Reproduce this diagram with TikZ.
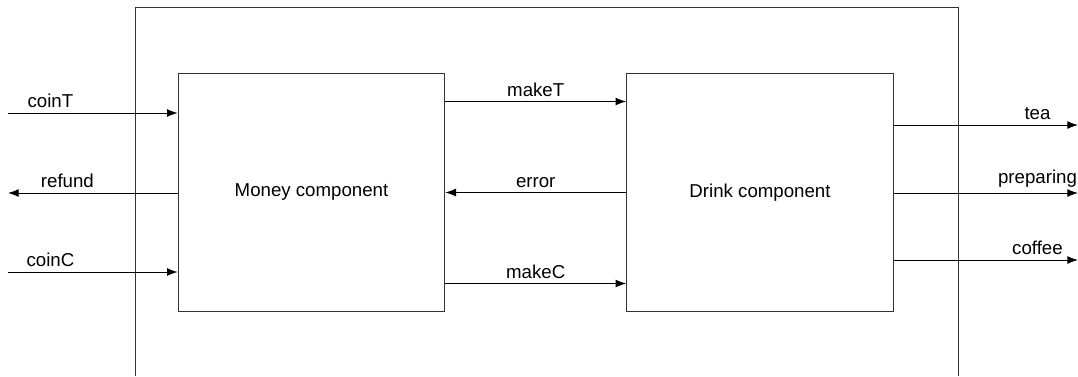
\documentclass[tikz,border=0pt]{standalone}
\usepackage{fontspec}
\setmainfont{Liberation Sans}
\usetikzlibrary{arrows.meta}
\begin{document}
\begin{tikzpicture}[
		x=0.75pt, y=-0.75pt,
		font=\fontsize{14}{16}\selectfont,
		comp/.style = {rectangle, draw=black!80, line width=0.75pt, minimum width=200pt, minimum height=179pt},
		r/.style = {-{Latex[length=8pt,width=6pt]}, line width=0.75pt},
		lbl/.style = {above, inner sep=3.5pt}
		]
	\useasboundingbox (0,0) rectangle (1078,376);

	% === === Nodes === ===
	\node[comp]	(money)	at	(311.5, 192.5)	{Money component};
	\node[comp]	(drink)	at	(760, 192.5)	{Drink component};

	\coordinate	(coinT)		at	(8, 113);
	\coordinate	(refund)	at	(8, 193);
	\coordinate	(coinC)		at	(8, 272);
	\coordinate	(tea)		at	(1078, 125);
	\coordinate	(prep)		at	(1078, 193);
	\coordinate	(coffee)	at	(1078, 260);

	% === === Frame === ===
	\draw[black!80, line width=0.75pt] (135, 376) -- (135, 7) -- (958, 7) -- (958, 376);

	% === === Lines === ===
	\draw[r]	(coinT)		--	node[lbl, pos=0.25]	{coinT}		(coinT -| money.west);
	\draw[r]	(refund -| money.west)	--	node[lbl, pos=0.65]	{refund}	(refund);
	\draw[r]	(coinC)		--	node[lbl, pos=0.25]	{coinC}		(coinC -| money.west);

	\draw[r]	([yshift=68.25pt]money.east)	--	node[lbl]	{makeT}	([yshift=68.25pt]drink.west);
	\draw[r]	(drink.west)	--	node[lbl]	{error}	(money.west -| money.east);
	\draw[r]	([yshift=-68.25pt]money.east)	--	node[lbl]	{makeC}	([yshift=-68.25pt]drink.west);

	\draw[r]	(tea -| drink.east)		--	node[lbl, pos=0.78]	{tea}		(tea);
	\draw[r]	(prep -| drink.east)	--	node[lbl, pos=0.78]	{preparing}	(prep);
	\draw[r]	(coffee -| drink.east)	--	node[lbl, pos=0.78]	{coffee}	(coffee);

\end{tikzpicture}
\end{document}
